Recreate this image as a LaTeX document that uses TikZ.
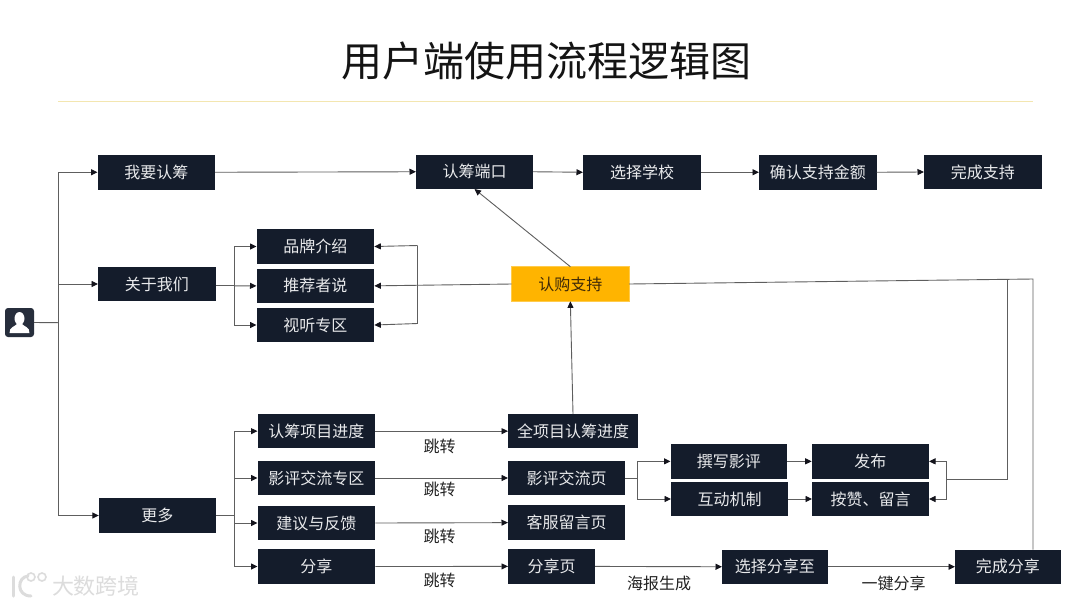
\documentclass[tikz,border=0pt]{standalone}
\usepackage{fontspec}
\setmainfont{Noto Sans CJK SC}
\usetikzlibrary{arrows.meta}
\tikzset{
  x=1pt,y=-1pt,
  boxn/.style={fill=boxc,text=boxt,inner sep=0pt,outer sep=0pt,font=\fontsize{16}{16}\selectfont},
  goldn/.style={boxn,fill=goldc,draw=goldc!70!white,line width=.6pt,text=goldt},
  lab/.style={inner sep=0pt,text=labc,font=\fontsize{16}{16}\selectfont},
  con/.style={draw=linec,line width=.9pt},
  arr/.style={con,-{Triangle[length=6.5pt,width=6pt,color=tipc]}}
}
\definecolor{boxc}{HTML}{141C2B}
\definecolor{boxt}{HTML}{E9EAEC}
\definecolor{goldc}{HTML}{FFB400}
\definecolor{goldt}{HTML}{3F2A08}
\definecolor{labc}{HTML}{222222}
\definecolor{linec}{HTML}{5E5E5E}
\definecolor{tipc}{HTML}{14141C}
\definecolor{rulec}{HTML}{F3E6B0}
\definecolor{markc}{HTML}{DCDCDC}
\newcommand{\bx}[7][boxn]{%
  \pgfmathsetmacro{\cxx}{(#3+#4)/2}\pgfmathsetmacro{\cyy}{(#5+#6)/2}%
  \pgfmathsetmacro{\wxx}{#4-#3}\pgfmathsetmacro{\hyy}{#6-#5}%
  \node[#1,minimum width=\wxx pt,minimum height=\hyy pt] (#2) at (\cxx,\cyy) {#7};}
\begin{document}
\begin{tikzpicture}
\path[use as bounding box,fill=white] (0,0) rectangle (1080,606);
% title
\node[inner sep=0pt,text=black!92,font=\fontsize{41}{41}\selectfont] (title) at (546.5,61) {用户端使用流程逻辑图};
\coordinate (ruleL) at (58,101.5); \coordinate (ruleR) at (1033,101.5);
\draw[rulec,line width=1.3pt] (ruleL) -- (ruleR);
% user icon
\node[fill=boxc!92!white,rounded corners=3pt,minimum width=29pt,minimum height=29pt,inner sep=0pt] (user) at (19.5,322.5) {};
\fill[white] (19.5,318.5) ellipse (5 and 6.5);
\fill[white] (9.5,333) .. controls (9.5,327) and (14,327) .. (17,324) -- (22,324) .. controls (25,327) and (29.5,327) .. (29.5,333) -- cycle;
% boxes
\bx{wy}{97.5}{215}{155}{189.5}{我要认筹}
\bx{rz}{416}{533}{154.5}{189}{认筹端口}
\bx{xx}{583}{701}{155}{189.5}{选择学校}
\bx{qr}{759}{876.5}{155}{189.5}{确认支持金额}
\bx{wc}{924}{1041.5}{155}{189}{完成支持}
\bx{gy}{98}{215.5}{266.7}{301.3}{关于我们}
\bx{pp}{256.5}{374.3}{229.3}{263.7}{品牌介绍}
\bx{tj}{256.5}{374.3}{268.7}{303}{推荐者说}
\bx{st}{256.5}{374.3}{307.7}{342.3}{视听专区}
\bx[goldn]{rg}{511.7}{629}{266.7}{301.3}{认购支持}
\bx{gd}{98.8}{216}{498}{533}{更多}
\bx{jd}{257.5}{375.3}{414}{448.3}{认筹项目进度}
\bx{yp}{257.5}{375.3}{460.7}{495.3}{影评交流专区}
\bx{jy}{257.5}{375.3}{506}{540}{建议与反馈}
\bx{fx}{257.5}{375.3}{549.3}{583.7}{分享}
\bx{qx}{508}{638}{414}{448.3}{全项目认筹进度}
\bx{yy}{508}{625.4}{460.7}{495.3}{影评交流页}
\bx{kf}{508}{625.4}{505.3}{540}{客服留言页}
\bx{fy}{508}{595}{549.3}{583.5}{分享页}
\bx{zx}{670.5}{787.3}{444}{478.7}{撰写影评}
\bx{hd}{671}{788}{482}{516}{互动机制}
\bx{fb}{811.7}{929}{444}{478.7}{发布}
\bx{az}{812}{929}{482}{516}{按赞、留言}
\bx{xz}{722}{827.5}{549.5}{584}{选择分享至}
\bx{wf}{955}{1060.5}{549.5}{584}{完成分享}
% junctions
\coordinate (trunk) at (58.5,322.7);
\coordinate (lb) at (234.5,285.8);
\coordinate (rbt) at (417.7,245.5);
\coordinate (rbb) at (417.7,323.5);
\coordinate (mb) at (234,515.5);
\coordinate (yb) at (637,478);
\coordinate (pb) at (946.7,479.3);
\coordinate (pbm) at (1007.6,479.3);
\coordinate (pbo) at (1007.6,279.6);
\coordinate (top) at (1033,279);
\coordinate (wfu) at (1033,549.5);
% connectors
\draw[con] (user.east) -- (trunk);
\draw[arr] (trunk) |- (wy.west);
\draw[arr] (trunk) |- (gy.west);
\draw[arr] (trunk) |- (gd.west);
\draw[arr] (wy.east) -- (rz.west);
\draw[arr] (rz.east) -- (xx.west);
\draw[arr] (xx.east) -- (qr.west);
\draw[arr] (qr.east) -- (wc.west);
\draw[arr] (rg.north) -- (rz.south);
\draw[con] (gy.east|-lb) -- (lb);
\draw[arr] (lb) -- (tj.west);
\draw[arr] (lb) |- (pp.west);
\draw[arr] (lb) |- (st.west);
\draw[con] (rbt) -- (rbb);
\draw[arr] (rbt) -- (pp.east);
\draw[arr] (rbb) -- (st.east);
\draw[arr] (rg.west) -- (tj.east);
\draw[arr] (qx.north) -- (rg.south);
\draw[con] (gd.east) -- (mb);
\draw[arr] (mb) |- (jd.west);
\draw[arr] (mb) |- (yp.west);
\draw[arr] (mb) |- (jy.west);
\draw[arr] (mb) |- (fx.west);
\draw[arr] (jd.east) -- (qx.west);
\draw[arr] (yp.east) -- (yy.west);
\draw[arr] (jy.east) -- (kf.west);
\draw[arr] (fx.east) -- (fy.west);
\draw[arr] (fy.east) -- (xz.west);
\draw[arr] (xz.east) -- (wf.west);
\draw[con] (yy.east) -- (yb);
\draw[arr] (yb) |- (zx.west);
\draw[arr] (yb) |- (hd.west);
\draw[arr] (zx.east) -- (fb.west);
\draw[arr] (hd.east) -- (az.west);
\draw[arr] (pb) |- (fb.east);
\draw[arr] (pb) |- (az.east);
\draw[con] (pb) -- (pbm) -- (pbo);
\draw[con] (rg.east) -- (top) -- (wfu);
% labels
\node[lab] (l1) at (439.7,446) {跳转};
\node[lab] (l2) at (439.7,489) {跳转};
\node[lab] (l3) at (439.7,536) {跳转};
\node[lab] (l4) at (439.7,580) {跳转};
\node[lab] (l5) at (659,583) {海报生成};
\node[lab] (l6) at (893.6,583) {一键分享};
% watermark
\node[inner sep=0pt,text=markc,font=\fontsize{22}{22}\selectfont] (mark) at (96,586) {大数跨境};
\draw[markc,line width=3pt,line cap=round] (13,577) -- (13,596);
\draw[markc,line width=3pt,line cap=round] (28,576) .. controls (17,577) and (16,596) .. (31,596);
\draw[markc,line width=1.6pt] (31,577) circle (4);
\draw[markc,line width=1.6pt] (42,577) circle (4);
\end{tikzpicture}
\end{document}
